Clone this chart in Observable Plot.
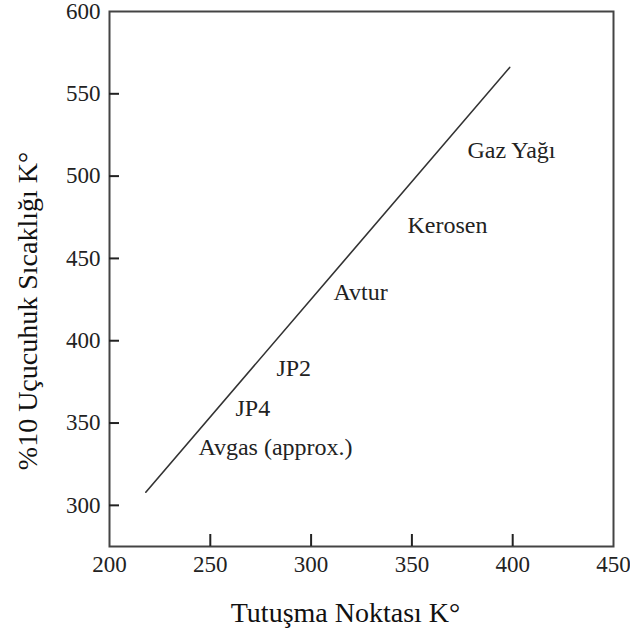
<!DOCTYPE html>
<html>
<head>
<meta charset="utf-8">
<script src="https://cdn.jsdelivr.net/npm/d3@7"></script>
<script src="https://cdn.jsdelivr.net/npm/@observablehq/plot@0.6"></script>
<style>
  html, body { margin: 0; padding: 0; background: #fff; }
  #chart svg { display: block; }
</style>
</head>
<body>
<div id="chart"></div>
<script>
// Line (flash point vs 10% evaporation temperature)
const lineX = [218, 398.5];
const lineY = [308, 566];

// Fuel labels
const fuelNames = ["Gaz Yağı", "Kerosen", "Avtur", "JP2", "JP4", "Avgas (approx.)"];
const fuelX = [377.6, 347.8, 311.1, 282.8, 262.5, 244.1];
const fuelY = [515.6, 470, 429.3, 383.1, 358.8, 335.1];

// Ticks
const xTicks = [200, 250, 300, 350, 400, 450];
const yTicks = [300, 350, 400, 450, 500, 550, 600];

const xTitle = "Tutuşma Noktası K°";
const yTitle = "%10 Uçucuhuk Sıcaklığı K°";

const lineData = lineX.map((x, i) => ({x, y: lineY[i]}));
const labelData = fuelNames.map((name, i) => ({name, x: fuelX[i], y: fuelY[i]}));

const font = "Liberation Serif";
const W = 630, H = 637, mL = 109, mR = 17, mT = 11, mB = 91;

const chart = Plot.plot({
  width: W,
  height: H,
  marginLeft: mL,
  marginRight: mR,
  marginTop: mT,
  marginBottom: mB,
  style: {fontFamily: font, color: "#222", background: "#fff"},
  x: {domain: [200, 450]},
  y: {domain: [275, 600]},
  marks: [
    Plot.frame({stroke: "#444", strokeWidth: 2}),
    // inward tick marks: drawn as axis ticks pointing into the frame
    Plot.axisX({ticks: xTicks.slice(1, -1), tickSize: 12, dy: -12, text: null, stroke: "#222", strokeWidth: 2, label: null}),
    Plot.axisY({ticks: yTicks.slice(0, -1), tickSize: 10, dx: 10, text: null, stroke: "#222", strokeWidth: 2, label: null}),
    Plot.axisX({ticks: xTicks, tickSize: 0, tickPadding: 9, fontSize: 23, fontFamily: font, label: null, tickFormat: d => String(d)}),
    Plot.axisY({ticks: yTicks, tickSize: 0, tickPadding: 9, fontSize: 23, fontFamily: font, label: null, tickFormat: d => String(d)}),
    Plot.line(lineData, {x: "x", y: "y", stroke: "#333", strokeWidth: 1.6}),
    Plot.text(labelData, {x: "x", y: "y", text: "name", textAnchor: "start", fontSize: 24, fontFamily: font, fill: "#222"}),
    Plot.text([xTitle], {frameAnchor: "bottom", textAnchor: "middle", dy: 75, dx: -16, fontSize: 28, fontFamily: font, fill: "#111"}),
    Plot.text([yTitle], {frameAnchor: "left", textAnchor: "middle", dx: -81, dy: 32, rotate: -90, fontSize: 28, fontFamily: font, fill: "#111"})
  ]
});
document.getElementById("chart").appendChild(chart);
</script>
</body>
</html>
